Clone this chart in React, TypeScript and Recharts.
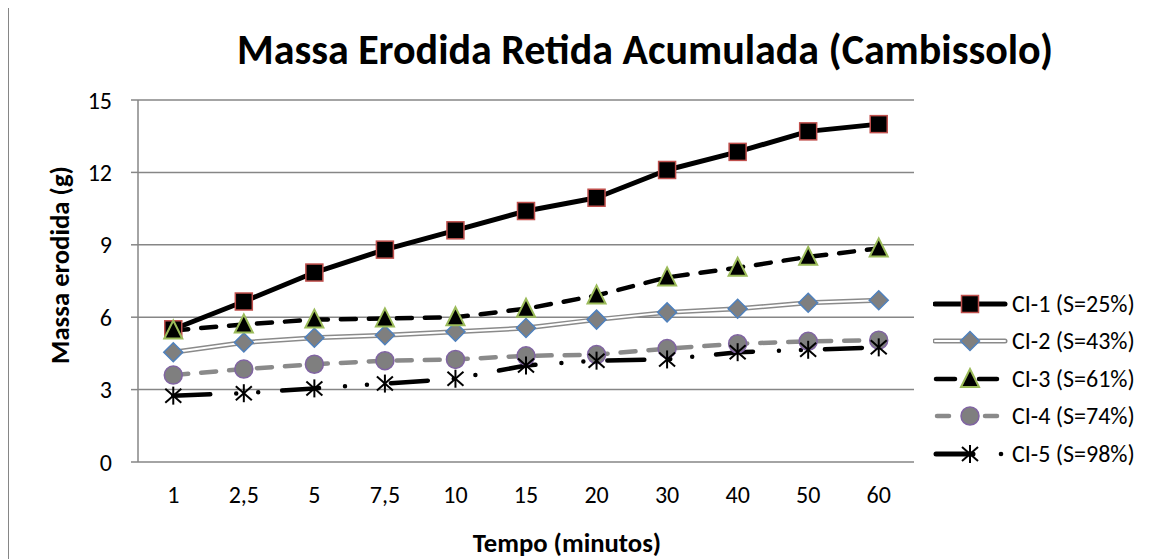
import React from 'react';
import { LineChart, Line, XAxis, YAxis, CartesianGrid, Legend, Label } from 'recharts';

const categories = ['1', '2,5', '5', '7,5', '10', '15', '20', '30', '40', '50', '60'];
const ci1 = [5.5, 6.65, 7.85, 8.8, 9.6, 10.4, 10.95, 12.1, 12.85, 13.7, 14.0];
const ci2 = [4.55, 4.95, 5.15, 5.25, 5.4, 5.55, 5.9, 6.2, 6.35, 6.6, 6.7];
const ci3 = [5.45, 5.7, 5.9, 5.95, 6.0, 6.35, 6.9, 7.65, 8.05, 8.5, 8.85];
const ci4 = [3.6, 3.85, 4.05, 4.2, 4.25, 4.4, 4.45, 4.7, 4.9, 5.0, 5.05];
const ci5 = [2.75, 2.85, 3.05, 3.25, 3.45, 4.0, 4.2, 4.25, 4.55, 4.65, 4.75];
const seriesNames = ['CI-1 (S=25%)', 'CI-2 (S=43%)', 'CI-3 (S=61%)', 'CI-4 (S=74%)', 'CI-5 (S=98%)'];
const yTicks = [0, 3, 6, 9, 12, 15];

const data = categories.map((name, i) => ({
  name,
  ci1: ci1[i],
  ci2: ci2[i],
  ci3: ci3[i],
  ci4: ci4[i],
  ci5: ci5[i],
}));

const FONT = 'Calibri, Carlito, Lato, sans-serif';
const AXIS = '#868686';
const DASH = '15 13';
const DASH_DOT_DOT = '37 26 0 22 0 24';

// marker shapes, shared by the lines and the legend
const square = (cx: number, cy: number, key?: any) => (
  <rect key={key} x={cx - 8.5} y={cy - 8.5} width={17} height={17} fill="#000" stroke="#c0504d" strokeWidth={1.5} />
);
const diamond = (cx: number, cy: number, key?: any) => (
  <polygon key={key} points={`${cx},${cy - 9.5} ${cx + 9.5},${cy} ${cx},${cy + 9.5} ${cx - 9.5},${cy}`}
    fill="#7f7f7f" stroke="#4f81bd" strokeWidth={1.5} />
);
const triangle = (cx: number, cy: number, key?: any) => (
  <polygon key={key} points={`${cx},${cy - 10} ${cx + 9},${cy + 8} ${cx - 9},${cy + 8}`}
    fill="#000" stroke="#9bbb59" strokeWidth={2} />
);
const circle = (cx: number, cy: number, key?: any) => (
  <circle key={key} cx={cx} cy={cy} r={9} fill="#7f7f7f" stroke="#8064a2" strokeWidth={1.5} />
);
const star = (cx: number, cy: number, key?: any) => (
  <g key={key} stroke="#000" strokeWidth={2}>
    <line x1={cx} y1={cy - 9} x2={cx} y2={cy + 9} />
    <line x1={cx - 8} y1={cy - 7} x2={cx + 8} y2={cy + 7} />
    <line x1={cx - 8} y1={cy + 7} x2={cx + 8} y2={cy - 7} />
  </g>
);

const makeDot = (shape: (cx: number, cy: number, key?: any) => React.ReactElement) => (props: any) => {
  const { cx, cy, index } = props;
  if (cx == null || cy == null) return <g key={index} />;
  return shape(cx, cy, index);
};

const legendIcons = [
  <svg width={75} height={24}>
    <line x1={2} y1={12} x2={72} y2={12} stroke="#000" strokeWidth={5} strokeLinecap="round" />
    {square(37, 12)}
  </svg>,
  <svg width={75} height={24}>
    <line x1={2} y1={12} x2={72} y2={12} stroke="#8a8a8a" strokeWidth={5} strokeLinecap="round" />
    <line x1={2} y1={12} x2={72} y2={12} stroke="#fff" strokeWidth={2} strokeLinecap="round" />
    {diamond(37, 12)}
  </svg>,
  <svg width={75} height={24}>
    <line x1={3} y1={12} x2={22} y2={12} stroke="#000" strokeWidth={4.5} strokeLinecap="round" />
    <line x1={46} y1={12} x2={64} y2={12} stroke="#000" strokeWidth={4.5} strokeLinecap="round" />
    {triangle(37, 12)}
  </svg>,
  <svg width={75} height={24}>
    <line x1={4} y1={12} x2={16} y2={12} stroke="#8a8a8a" strokeWidth={4.5} strokeLinecap="round" />
    <line x1={52} y1={12} x2={64} y2={12} stroke="#8a8a8a" strokeWidth={4.5} strokeLinecap="round" />
    {circle(37, 12)}
  </svg>,
  <svg width={75} height={24}>
    <line x1={3} y1={12} x2={40} y2={12} stroke="#000" strokeWidth={5} strokeLinecap="round" />
    {star(37, 12)}
    <circle cx={68} cy={12} r={2.3} fill="#000" />
  </svg>,
];

const renderLegend = () => (
  <div style={{ fontFamily: FONT, fontSize: 24, color: '#000' }}>
    {seriesNames.map((name, i) => (
      <div key={name} style={{ display: 'flex', alignItems: 'center', height: 37.5 }}>
        {legendIcons[i]}
        <span style={{ marginLeft: 4, whiteSpace: 'nowrap', lineHeight: '24px' }}>{name}</span>
      </div>
    ))}
  </div>
);

const titleStyle = { fontWeight: 'bold', fontSize: 26.7, fontFamily: FONT, fill: '#000' } as const;

const XTitle = (props: any) => {
  const { x, width, y, height } = props.viewBox;
  return (
    <text x={x + width / 2 + 41} y={y + height - 7} textAnchor="middle" style={titleStyle}>
      Tempo (minutos)
    </text>
  );
};

const YTitle = (props: any) => {
  const { y, height } = props.viewBox;
  const cx = 52;
  const cy = y + height / 2 - 16;
  return (
    <text x={cx} y={cy} dy="0.32em" textAnchor="middle" transform={`rotate(-90 ${cx} ${cy})`} style={titleStyle}>
      Massa erodida (g)
    </text>
  );
};

const App = () => {
  return (
    <div style={{ position: 'relative', width: 1152, height: 551, fontFamily: FONT }}>
      <div style={{ position: 'absolute', left: -1, top: -2, width: 1200, height: 600, borderLeft: `2px solid ${AXIS}`, borderTop: `2px solid ${AXIS}` }} />
      <svg width={1152} height={551} style={{ position: 'absolute', left: 0, top: 0, pointerEvents: 'none' }}>
        <text x={637} y={56} textAnchor="middle" style={{ fontWeight: 'bold', fontSize: 42, fontFamily: FONT, fill: '#000' }}>
          Massa Erodida Retida Acumulada (Cambissolo)
        </text>
      </svg>
      <LineChart width={1152} height={551} data={data} margin={{ top: 92, right: 246, bottom: 0, left: 0 }}>
        <CartesianGrid vertical={false} stroke={AXIS} strokeWidth={1.5} />
        <XAxis
          xAxisId="marks"
          type="number"
          domain={[0, categories.length]}
          ticks={[...categories.map((_, i) => i), categories.length]}
          allowDataOverflow
          height={0}
          tick={false}
          tickSize={7}
          tickLine={{ stroke: AXIS, strokeWidth: 1.5 }}
          axisLine={{ stroke: AXIS, strokeWidth: 1.5 }}
        />
        <XAxis
          dataKey="name"
          scale="band"
          interval={0}
          height={97}
          axisLine={false}
          tickLine={false}
          tickSize={6}
          tickMargin={17.5}
          tick={{ fill: '#000', fontSize: 24, fontFamily: FONT }}
        >
          <Label content={<XTitle />} />
        </XAxis>
        <YAxis
          domain={[0, 15]}
          ticks={yTicks}
          width={130}
          axisLine={{ stroke: AXIS, strokeWidth: 1.5 }}
          tickLine={{ stroke: AXIS, strokeWidth: 1.5 }}
          tickSize={7}
          tickMargin={19}
          tick={{ fill: '#000', fontSize: 24, fontFamily: FONT }}
        >
          <Label content={<YTitle />} />
        </YAxis>
        <Legend
          layout="vertical"
          align="center"
          verticalAlign="middle"
          content={renderLegend}
          wrapperStyle={{ left: 925, top: 277, width: 227 }}
        />
        <Line type="linear" dataKey="ci1" stroke="#000" strokeWidth={5} strokeLinejoin="round"
          dot={makeDot(square)} activeDot={false} isAnimationActive={false} />
        <Line type="linear" dataKey="ci2" stroke="#8a8a8a" strokeWidth={5} dot={false} activeDot={false} isAnimationActive={false} />
        <Line type="linear" dataKey="ci2" stroke="#fff" strokeWidth={2} dot={makeDot(diamond)} activeDot={false} isAnimationActive={false} />
        <Line type="linear" dataKey="ci3" stroke="#000" strokeWidth={4.5} strokeDasharray={DASH} strokeLinecap="round"
          dot={makeDot(triangle)} activeDot={false} isAnimationActive={false} />
        <Line type="linear" dataKey="ci4" stroke="#8a8a8a" strokeWidth={4.5} strokeDasharray={DASH} strokeLinecap="round"
          dot={makeDot(circle)} activeDot={false} isAnimationActive={false} />
        <Line type="linear" dataKey="ci5" stroke="#000" strokeWidth={4.5} strokeDasharray={DASH_DOT_DOT} strokeLinecap="round"
          dot={makeDot(star)} activeDot={false} isAnimationActive={false} />
      </LineChart>
    </div>
  );
};

export default App;
